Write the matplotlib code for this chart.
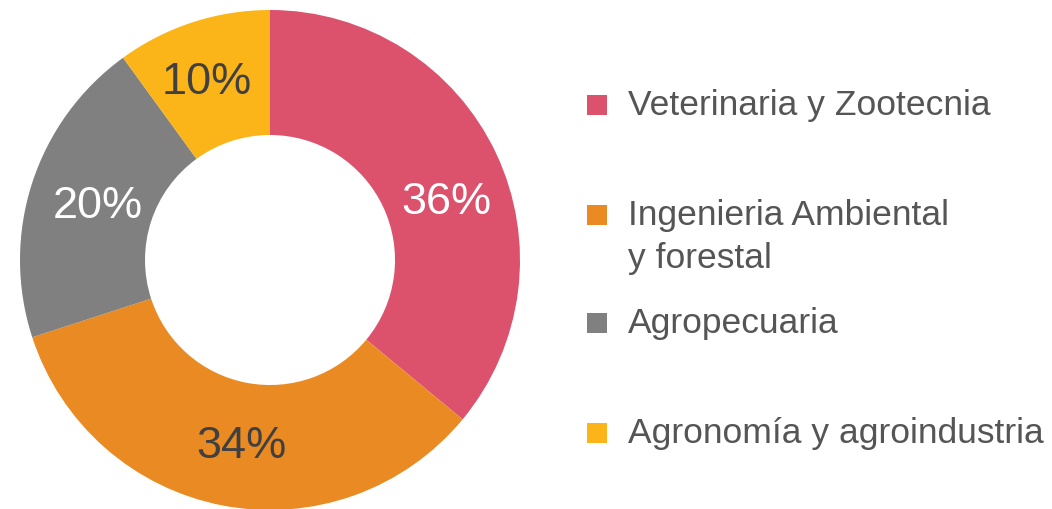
import matplotlib
matplotlib.use("Agg")
import matplotlib.pyplot as plt
from matplotlib.patches import Rectangle

categories = ["Veterinaria y Zootecnia", "Ingenieria Ambiental\ny forestal",
              "Agropecuaria", "Agronomía y agroindustria"]
values = [36, 34, 20, 10]
colors = ["#DC526D", "#EA8A22", "#808080", "#FBB519"]
label_colors = ["white", "#404040", "white", "#404040"]
# small nudges of the percentage labels (pixels, x right / y down)
label_nudge = [(7, 18), (7, -2), (6, 0), (-5, -4)]

plt.rcParams['font.family'] = ['Liberation Sans', 'DejaVu Sans']

W, H = 1052, 509
R_PX = 250
fig = plt.figure(figsize=(W / 100, H / 100), dpi=100)
ax = fig.add_axes([20 / W, (H - 510) / H, 500 / W, 500 / H])
wedges, texts, autotexts = ax.pie(
    values, colors=colors, startangle=90, counterclock=False,
    radius=1, wedgeprops=dict(width=0.5, edgecolor="none"),
    autopct=lambda p: f"{p:.0f}%", pctdistance=0.75)
for t, c, (dx, dy) in zip(autotexts, label_colors, label_nudge):
    t.set_color(c)
    t.set_fontsize(32.5)
    t.set_va("center_baseline")
    x, y = t.get_position()
    t.set_position((x + dx / R_PX, y - dy / R_PX))
ax.set_xlim(-1, 1)
ax.set_ylim(-1, 1)
ax.set_aspect("equal")
ax.axis("off")

# legend drawn manually to mimic uneven spacing
square_y = [105, 215, 323, 433]
baselines = [115, 225, 333, 443]
for cat, col, sy, by in zip(categories, colors, square_y, baselines):
    fig.patches.append(Rectangle((587 / W, 1 - (sy + 10) / H), 20 / W, 20 / H,
                                 transform=fig.transFigure, facecolor=col,
                                 edgecolor="none"))
    for i, line in enumerate(cat.split("\n")):
        fig.text(628 / W, 1 - (by + 43 * i) / H, line, fontsize=25.5,
                 color="#555555", va="baseline", ha="left")
fig.savefig("out.png", dpi=100)
